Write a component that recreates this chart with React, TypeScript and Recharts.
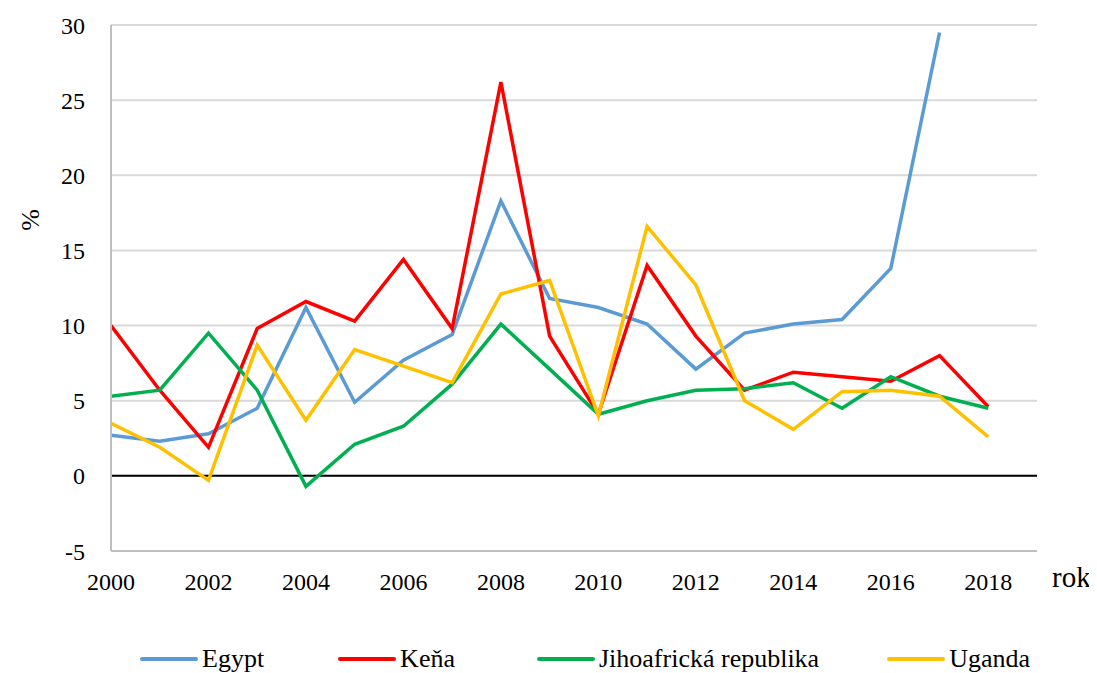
import React from "react";
import {
  LineChart,
  Line,
  XAxis,
  YAxis,
  CartesianGrid,
  ReferenceLine,
  Legend,
} from "recharts";

const years = [
  2000, 2001, 2002, 2003, 2004, 2005, 2006, 2007, 2008, 2009,
  2010, 2011, 2012, 2013, 2014, 2015, 2016, 2017, 2018,
];

const egypt = [
  2.7, 2.3, 2.8, 4.5, 11.2, 4.9, 7.7, 9.4, 18.3, 11.8,
  11.2, 10.1, 7.1, 9.5, 10.1, 10.4, 13.8, 29.5, null,
];
const kena = [
  10.0, 5.7, 1.9, 9.8, 11.6, 10.3, 14.4, 9.8, 26.2, 9.3,
  4.1, 14.0, 9.3, 5.7, 6.9, 6.6, 6.3, 8.0, 4.6,
];
const jar = [
  5.3, 5.7, 9.5, 5.7, -0.7, 2.1, 3.3, 6.1, 10.1, 7.1,
  4.1, 5.0, 5.7, 5.8, 6.2, 4.5, 6.6, 5.3, 4.5,
];
const uganda = [
  3.5, 1.9, -0.3, 8.7, 3.7, 8.4, 7.3, 6.2, 12.1, 13.0,
  4.0, 16.6, 12.7, 5.0, 3.1, 5.6, 5.7, 5.3, 2.6,
];

const xTicks = [2000, 2002, 2004, 2006, 2008, 2010, 2012, 2014, 2016, 2018];
const yTicks = [-5, 0, 5, 10, 15, 20, 25, 30];

const series = [
  { key: "egypt", name: "Egypt", color: "#5b9bd5" },
  { key: "kena", name: "Keňa", color: "#ff0000" },
  { key: "jar", name: "Jihoafrická republika", color: "#00b050" },
  { key: "uganda", name: "Uganda", color: "#ffc000" },
];

const data = years.map((year, i) => ({
  year,
  egypt: egypt[i],
  kena: kena[i],
  jar: jar[i],
  uganda: uganda[i],
}));

const FONT = "'Liberation Serif', 'Times New Roman', serif";
// space after each legend entry, roughly as in the source figure
const legendGaps = [74, 82, 68, 0];

function renderLegend() {
  return (
    <div
      style={{
        display: "flex",
        alignItems: "center",
        paddingLeft: 132,
        fontFamily: FONT,
        fontSize: 26,
        color: "#000",
        height: 28,
        whiteSpace: "nowrap",
      }}
    >
      {series.map((s, i) => (
        <span
          key={s.key}
          style={{ display: "flex", alignItems: "center", gap: 4, marginRight: legendGaps[i] }}
        >
          <span
            style={{
              display: "inline-block",
              width: 58,
              height: 4,
              borderRadius: 2,
              backgroundColor: s.color,
            }}
          />
          {s.name}
        </span>
      ))}
    </div>
  );
}

export default function App() {
  return (
    <div style={{ width: 1089, height: 665, background: "#fff" }}>
      <LineChart
        width={1089}
        height={665}
        data={data}
        margin={{ top: 17, right: 60, left: 0, bottom: 0 }}
      >
        <CartesianGrid vertical={false} stroke="#d9d9d9" strokeWidth={2} />
        <XAxis
          dataKey="year"
          type="number"
          domain={[2000, 2019]}
          ticks={xTicks}
          allowDataOverflow
          height={94}
          tickLine={false}
          tickSize={0}
          tickMargin={22}
          stroke="#bfbfbf"
          strokeWidth={2}
          tick={{ fill: "#000", fontFamily: FONT, fontSize: 24 }}
          label={({ viewBox }: any) => (
            <text
              x={viewBox.x + viewBox.width + 15}
              y={viewBox.y + 36}
              fontFamily={FONT}
              fontSize={29}
              fill="#000"
            >
              rok
            </text>
          )}
        />
        <YAxis
          type="number"
          domain={[-5, 30]}
          ticks={yTicks}
          width={103}
          tickLine={false}
          tickSize={0}
          tickMargin={26}
          stroke="#bfbfbf"
          strokeWidth={2}
          tick={{ fill: "#000", fontFamily: FONT, fontSize: 24 }}
          label={({ viewBox }: any) => (
            <text
              x={22}
              y={viewBox.y + 195}
              transform={`rotate(-90, 22, ${viewBox.y + 195})`}
              textAnchor="middle"
              dominantBaseline="central"
              fontFamily={FONT}
              fontSize={26}
              fill="#000"
            >
              %
            </text>
          )}
        />
        <ReferenceLine y={0} stroke="#000" strokeWidth={2} />
        <Legend verticalAlign="bottom" content={renderLegend} />
        {series.map((s) => (
          <Line
            key={s.key}
            type="linear"
            dataKey={s.key}
            name={s.name}
            stroke={s.color}
            strokeWidth={3.5}
            dot={false}
            activeDot={false}
            isAnimationActive={false}
          />
        ))}
      </LineChart>
    </div>
  );
}
